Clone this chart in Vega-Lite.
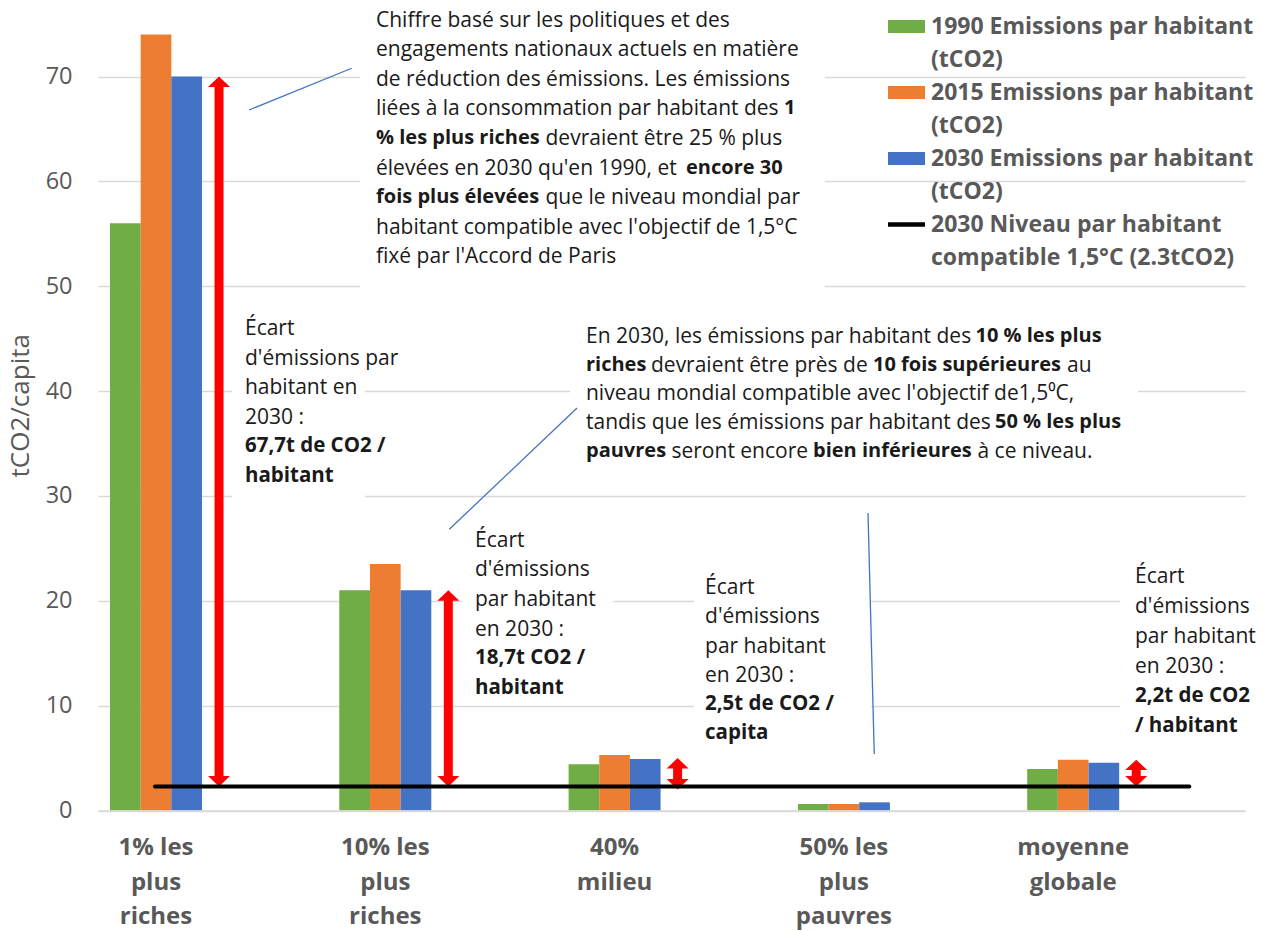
{
  "$schema": "https://vega.github.io/schema/vega-lite/v6.json",
  "autosize": {"type": "none"},
  "padding": {"left": 98, "top": 0, "right": 28, "bottom": 120.5},
  "width": 1147,
  "height": 810.5,
  "config": {"view": {"stroke": null}, "font": "Open Sans", "text": {"align": "left", "baseline": "top", "fontSize": 21, "color": "#1a1a1a"}},
  "datasets": {
    "bars": [
      {"group": "1% les plus riches", "series": "1990 Emissions par habitant (tCO2)", "value": 56},
      {"group": "1% les plus riches", "series": "2015 Emissions par habitant (tCO2)", "value": 74},
      {"group": "1% les plus riches", "series": "2030 Emissions par habitant (tCO2)", "value": 70},
      {"group": "10% les plus riches", "series": "1990 Emissions par habitant (tCO2)", "value": 21},
      {"group": "10% les plus riches", "series": "2015 Emissions par habitant (tCO2)", "value": 23.5},
      {"group": "10% les plus riches", "series": "2030 Emissions par habitant (tCO2)", "value": 21},
      {"group": "40% milieu", "series": "1990 Emissions par habitant (tCO2)", "value": 4.4},
      {"group": "40% milieu", "series": "2015 Emissions par habitant (tCO2)", "value": 5.3},
      {"group": "40% milieu", "series": "2030 Emissions par habitant (tCO2)", "value": 4.9},
      {"group": "50% les plus pauvres", "series": "1990 Emissions par habitant (tCO2)", "value": 0.62},
      {"group": "50% les plus pauvres", "series": "2015 Emissions par habitant (tCO2)", "value": 0.62},
      {"group": "50% les plus pauvres", "series": "2030 Emissions par habitant (tCO2)", "value": 0.78},
      {"group": "moyenne globale", "series": "1990 Emissions par habitant (tCO2)", "value": 3.96},
      {"group": "moyenne globale", "series": "2015 Emissions par habitant (tCO2)", "value": 4.85},
      {"group": "moyenne globale", "series": "2030 Emissions par habitant (tCO2)", "value": 4.56}
    ],
    "arrows": [
      {"group": "1% les plus riches", "low": 2.3, "high": 70},
      {"group": "10% les plus riches", "low": 2.3, "high": 21},
      {"group": "40% milieu", "low": 2.0, "high": 5.0},
      {"group": "moyenne globale", "low": 2.3, "high": 4.85}
    ],
    "one": [{}]
  },
  "layer": [
    {
      "data": {"name": "one"},
      "mark": {"type": "rect", "fill": "white"},
      "encoding": {
        "x": {"datum": "10% les plus riches", "type": "nominal", "bandPosition": 0.225},
        "x2": {"datum": "10% les plus riches", "bandPosition": 5.277},
        "y": {"datum": 77.3, "type": "quantitative"},
        "y2": {"datum": 49.36}
      }
    },
    {
      "data": {"name": "one"},
      "mark": {"type": "rect", "fill": "white"},
      "encoding": {
        "x": {"datum": "1% les plus riches", "type": "nominal", "bandPosition": 1.326},
        "x2": {"datum": "1% les plus riches", "bandPosition": 2.772},
        "y": {"datum": 48.21, "type": "quantitative"},
        "y2": {"datum": 29.61}
      }
    },
    {
      "data": {"name": "one"},
      "mark": {"type": "rect", "fill": "white"},
      "encoding": {
        "x": {"datum": "40% milieu", "type": "nominal", "bandPosition": 0.015},
        "x2": {"datum": "40% milieu", "bandPosition": 6.189},
        "y": {"datum": 47.26, "type": "quantitative"},
        "y2": {"datum": 32.28}
      }
    },
    {
      "data": {"name": "one"},
      "mark": {"type": "rect", "fill": "white"},
      "encoding": {
        "x": {"datum": "10% les plus riches", "type": "nominal", "bandPosition": 1.329},
        "x2": {"datum": "10% les plus riches", "bandPosition": 2.975},
        "y": {"datum": 27.23, "type": "quantitative"},
        "y2": {"datum": 10.35}
      }
    },
    {
      "data": {"name": "one"},
      "mark": {"type": "rect", "fill": "white"},
      "encoding": {
        "x": {"datum": "40% milieu", "type": "nominal", "bandPosition": 1.363},
        "x2": {"datum": "40% milieu", "bandPosition": 3.287},
        "y": {"datum": 23.32, "type": "quantitative"},
        "y2": {"datum": 5.58}
      }
    },
    {
      "data": {"name": "one"},
      "mark": {"type": "rect", "fill": "white"},
      "encoding": {
        "x": {"datum": "moyenne globale", "type": "nominal", "bandPosition": 1.009},
        "x2": {"datum": "moyenne globale", "bandPosition": 2.37},
        "y": {"datum": 24.27, "type": "quantitative"},
        "y2": {"datum": 6.25}
      }
    },
    {
      "data": {"name": "bars"},
      "mark": {"type": "bar"},
      "encoding": {
        "x": {
          "field": "group", "type": "nominal",
          "scale": {
            "domain": ["1% les plus riches", "10% les plus riches", "40% milieu", "50% les plus pauvres", "moyenne globale"],
            "paddingInner": 0.5988, "paddingOuter": 0.3005, "align": 0.0871, "round": false
          },
          "axis": {
            "title": null, "domain": true, "domainColor": "#d9d9d9", "domainWidth": 1.3,
            "ticks": false, "grid": false, "labelAngle": 0, "labelAlign": "center", "labelFont": "Open Sans",
            "labelFontSize": 24, "labelFontWeight": "bold", "labelColor": "#595959",
            "labelPadding": 25, "labelLineHeight": 34.5, "labelBaseline": "top",
            "labelLimit": 300, "labelOverlap": false,
            "labelExpr": "datum.value == '1% les plus riches' ? ['1% les','plus','riches'] : datum.value == '10% les plus riches' ? ['10% les','plus','riches'] : datum.value == '40% milieu' ? ['40%','milieu'] : datum.value == '50% les plus pauvres' ? ['50% les','plus','pauvres'] : ['moyenne','globale']"
          }
        },
        "xOffset": {"field": "series", "type": "nominal", "scale": {"paddingInner": 0, "paddingOuter": 0}},
        "y": {
          "field": "value", "type": "quantitative",
          "scale": {"domain": [0, 77.3], "nice": false, "zero": true},
          "axis": {
            "values": [0, 10, 20, 30, 40, 50, 60, 70], "grid": true, "gridColor": "#d9d9d9", "gridWidth": 1.3,
            "domain": false, "ticks": false, "labelFont": "Open Sans", "labelFontSize": 23.5,
            "labelColor": "#595959", "labelPadding": 26, "title": "tCO2/capita",
            "titleFont": "Open Sans", "titleFontSize": 26, "titleFontWeight": "normal",
            "titleColor": "#595959", "titlePadding": 12
          }
        },
        "color": {
          "field": "series", "type": "nominal",
          "scale": {
            "domain": ["1990 Emissions par habitant (tCO2)", "2015 Emissions par habitant (tCO2)", "2030 Emissions par habitant (tCO2)", "2030 Niveau par habitant compatible 1,5°C (2.3tCO2)"],
            "range": ["#70AD47", "#ED7D31", "#4472C4", "#000000"]
          },
          "legend": {
            "title": null, "orient": "none", "legendX": 790, "legendY": 8, "padding": 0,
            "symbolType": "M-1,-0.35L1,-0.35L1,0.35L-1,0.35Z", "symbolSize": 1369, "symbolStrokeWidth": 0,
            "labelFont": "Open Sans", "labelFontWeight": "bold", "labelFontSize": 23, "labelColor": "#595959",
            "labelLimit": 500, "labelOffset": 6, "labelBaseline": "top", "rowPadding": 2,
            "labelExpr": "indexof(datum.label,'Niveau') >= 0 ? ['2030 Niveau par habitant','compatible 1,5°C (2.3tCO2)'] : [replace(datum.label,' (tCO2)',''), '(tCO2)']",
            "encode": {
              "symbols": {"update": {"shape": {"signal": "indexof(datum.value,'Niveau') >= 0 ? 'M-1,-0.12L1,-0.12L1,0.12L-1,0.12Z' : 'M-1,-0.35L1,-0.35L1,0.35L-1,0.35Z'"}}},
              "labels": {"update": {"dy": {"value": -11}, "lineHeight": {"value": 33}}}
            }
          }
        }
      }
    },
    {
      "data": {"name": "arrows"},
      "mark": {"type": "rule", "color": "#FF0000", "strokeWidth": 9, "yOffset": -9, "y2Offset": 9},
      "encoding": {
        "x": {"field": "group", "type": "nominal", "bandPosition": 1.185},
        "y": {"field": "low", "type": "quantitative"},
        "y2": {"field": "high"}
      }
    },
    {
      "data": {"name": "arrows"},
      "mark": {"type": "point", "shape": "M0,0L1,0.95L-1,0.95Z", "size": 484, "filled": true, "color": "#FF0000", "opacity": 1, "strokeWidth": 0},
      "encoding": {
        "x": {"field": "group", "type": "nominal", "bandPosition": 1.185},
        "y": {"field": "high", "type": "quantitative"}
      }
    },
    {
      "data": {"name": "arrows"},
      "mark": {"type": "point", "shape": "M0,0L1,-0.95L-1,-0.95Z", "size": 484, "filled": true, "color": "#FF0000", "opacity": 1, "strokeWidth": 0},
      "encoding": {
        "x": {"field": "group", "type": "nominal", "bandPosition": 1.185},
        "y": {"field": "low", "type": "quantitative"}
      }
    },
    {
      "data": {"name": "one"},
      "mark": {"type": "rule", "color": "#000000", "strokeWidth": 4, "strokeCap": "round"},
      "encoding": {
        "x": {"datum": "1% les plus riches", "type": "nominal", "bandPosition": 0.489},
        "x2": {"datum": "moyenne globale", "bandPosition": 1.762},
        "y": {"datum": 2.3, "type": "quantitative"}
      }
    },
    {
      "data": {"name": "one"},
      "mark": {"type": "rule", "color": "#4472C4", "strokeWidth": 1.3},
      "encoding": {
        "x": {"datum": "1% les plus riches", "type": "nominal", "bandPosition": 1.511},
        "x2": {"datum": "1% les plus riches", "bandPosition": 2.627},
        "y": {"datum": 66.81, "type": "quantitative"},
        "y2": {"datum": 70.79}
      }
    },
    {
      "data": {"name": "one"},
      "mark": {"type": "rule", "color": "#4472C4", "strokeWidth": 1.3},
      "encoding": {
        "x": {"datum": "10% les plus riches", "type": "nominal", "bandPosition": 1.196},
        "x2": {"datum": "10% les plus riches", "bandPosition": 2.584},
        "y": {"datum": 26.82, "type": "quantitative"},
        "y2": {"datum": 38.39}
      }
    },
    {
      "data": {"name": "one"},
      "mark": {"type": "rule", "color": "#4472C4", "strokeWidth": 1.3},
      "encoding": {
        "x": {"datum": "50% les plus pauvres", "type": "nominal", "bandPosition": 0.762},
        "x2": {"datum": "50% les plus pauvres", "bandPosition": 0.830},
        "y": {"datum": 28.37, "type": "quantitative"},
        "y2": {"datum": 5.39}
      }
    },
    {
      "data": {"name": "one"},
      "mark": {"type": "text", "lineHeight": 29.6},
      "encoding": {
        "x": {"datum": "10% les plus riches", "type": "nominal", "bandPosition": 0.399},
        "y": {"datum": 76.39, "type": "quantitative"},
        "text": {"value": ["Chiffre basé sur les politiques et des", "engagements nationaux actuels en matière", "de réduction des émissions. Les émissions", "liées à la consommation par habitant des"]}
      }
    },
    {
      "data": {"name": "one"},
      "mark": {"type": "text", "fontWeight": "bold", "fontSize": 20, "dx": 408},
      "encoding": {
        "x": {"datum": "10% les plus riches", "type": "nominal", "bandPosition": 0.399},
        "y": {"datum": 67.921, "type": "quantitative"},
        "text": {"value": "1"}
      }
    },
    {
      "data": {"name": "one"},
      "mark": {"type": "text", "fontWeight": "bold", "fontSize": 20},
      "encoding": {
        "x": {"datum": "10% les plus riches", "type": "nominal", "bandPosition": 0.399},
        "y": {"datum": 65.098, "type": "quantitative"},
        "text": {"value": "% les plus riches"}
      }
    },
    {
      "data": {"name": "one"},
      "mark": {"type": "text", "dx": 169.5},
      "encoding": {
        "x": {"datum": "10% les plus riches", "type": "nominal", "bandPosition": 0.399},
        "y": {"datum": 65.098, "type": "quantitative"},
        "text": {"value": "devraient être 25 % plus"}
      }
    },
    {
      "data": {"name": "one"},
      "mark": {"type": "text"},
      "encoding": {
        "x": {"datum": "10% les plus riches", "type": "nominal", "bandPosition": 0.399},
        "y": {"datum": 62.274, "type": "quantitative"},
        "text": {"value": "élevées en 2030 qu'en 1990, et"}
      }
    },
    {
      "data": {"name": "one"},
      "mark": {"type": "text", "fontWeight": "bold", "fontSize": 20, "dx": 310},
      "encoding": {
        "x": {"datum": "10% les plus riches", "type": "nominal", "bandPosition": 0.399},
        "y": {"datum": 62.274, "type": "quantitative"},
        "text": {"value": "encore 30"}
      }
    },
    {
      "data": {"name": "one"},
      "mark": {"type": "text", "fontWeight": "bold", "fontSize": 20},
      "encoding": {
        "x": {"datum": "10% les plus riches", "type": "nominal", "bandPosition": 0.399},
        "y": {"datum": 59.451, "type": "quantitative"},
        "text": {"value": "fois plus élevées"}
      }
    },
    {
      "data": {"name": "one"},
      "mark": {"type": "text", "dx": 169.5},
      "encoding": {
        "x": {"datum": "10% les plus riches", "type": "nominal", "bandPosition": 0.399},
        "y": {"datum": 59.451, "type": "quantitative"},
        "text": {"value": "que le niveau mondial par"}
      }
    },
    {
      "data": {"name": "one"},
      "mark": {"type": "text", "lineHeight": 29.6},
      "encoding": {
        "x": {"datum": "10% les plus riches", "type": "nominal", "bandPosition": 0.399},
        "y": {"datum": 56.628, "type": "quantitative"},
        "text": {"value": ["habitant compatible avec l'objectif de 1,5°C", "fixé par l'Accord de Paris"]}
      }
    },
    {
      "data": {"name": "one"},
      "mark": {"type": "text"},
      "encoding": {
        "x": {"datum": "40% milieu", "type": "nominal", "bandPosition": 0.189},
        "y": {"datum": 46.21, "type": "quantitative"},
        "text": {"value": "En 2030, les émissions par habitant des"}
      }
    },
    {
      "data": {"name": "one"},
      "mark": {"type": "text", "fontWeight": "bold", "fontSize": 20, "dx": 389.5},
      "encoding": {
        "x": {"datum": "40% milieu", "type": "nominal", "bandPosition": 0.189},
        "y": {"datum": 46.21, "type": "quantitative"},
        "text": {"value": "10 % les plus"}
      }
    },
    {
      "data": {"name": "one"},
      "mark": {"type": "text", "fontWeight": "bold", "fontSize": 20},
      "encoding": {
        "x": {"datum": "40% milieu", "type": "nominal", "bandPosition": 0.189},
        "y": {"datum": 43.468, "type": "quantitative"},
        "text": {"value": "riches"}
      }
    },
    {
      "data": {"name": "one"},
      "mark": {"type": "text", "dx": 65},
      "encoding": {
        "x": {"datum": "40% milieu", "type": "nominal", "bandPosition": 0.189},
        "y": {"datum": 43.468, "type": "quantitative"},
        "text": {"value": "devraient être près de"}
      }
    },
    {
      "data": {"name": "one"},
      "mark": {"type": "text", "fontWeight": "bold", "fontSize": 20, "dx": 287},
      "encoding": {
        "x": {"datum": "40% milieu", "type": "nominal", "bandPosition": 0.189},
        "y": {"datum": 43.468, "type": "quantitative"},
        "text": {"value": "10 fois supérieures"}
      }
    },
    {
      "data": {"name": "one"},
      "mark": {"type": "text", "dx": 481},
      "encoding": {
        "x": {"datum": "40% milieu", "type": "nominal", "bandPosition": 0.189},
        "y": {"datum": 43.468, "type": "quantitative"},
        "text": {"value": "au"}
      }
    },
    {
      "data": {"name": "one"},
      "mark": {"type": "text", "lineHeight": 28.75},
      "encoding": {
        "x": {"datum": "40% milieu", "type": "nominal", "bandPosition": 0.189},
        "y": {"datum": 40.726, "type": "quantitative"},
        "text": {"value": ["niveau mondial compatible avec l'objectif de1,5⁰C,", "tandis que les émissions par habitant des"]}
      }
    },
    {
      "data": {"name": "one"},
      "mark": {"type": "text", "fontWeight": "bold", "fontSize": 20, "dx": 409},
      "encoding": {
        "x": {"datum": "40% milieu", "type": "nominal", "bandPosition": 0.189},
        "y": {"datum": 37.984, "type": "quantitative"},
        "text": {"value": "50 % les plus"}
      }
    },
    {
      "data": {"name": "one"},
      "mark": {"type": "text", "fontWeight": "bold", "fontSize": 20},
      "encoding": {
        "x": {"datum": "40% milieu", "type": "nominal", "bandPosition": 0.189},
        "y": {"datum": 35.242, "type": "quantitative"},
        "text": {"value": "pauvres"}
      }
    },
    {
      "data": {"name": "one"},
      "mark": {"type": "text", "dx": 85.5},
      "encoding": {
        "x": {"datum": "40% milieu", "type": "nominal", "bandPosition": 0.189},
        "y": {"datum": 35.242, "type": "quantitative"},
        "text": {"value": "seront encore"}
      }
    },
    {
      "data": {"name": "one"},
      "mark": {"type": "text", "fontWeight": "bold", "fontSize": 20, "dx": 227},
      "encoding": {
        "x": {"datum": "40% milieu", "type": "nominal", "bandPosition": 0.189},
        "y": {"datum": 35.242, "type": "quantitative"},
        "text": {"value": "bien inférieures"}
      }
    },
    {
      "data": {"name": "one"},
      "mark": {"type": "text", "dx": 391.5},
      "encoding": {
        "x": {"datum": "40% milieu", "type": "nominal", "bandPosition": 0.189},
        "y": {"datum": 35.242, "type": "quantitative"},
        "text": {"value": "à ce niveau."}
      }
    },
    {
      "data": {"name": "one"},
      "mark": {"type": "text", "lineHeight": 29.5},
      "encoding": {
        "x": {"datum": "1% les plus riches", "type": "nominal", "bandPosition": 1.467},
        "y": {"datum": 46.97, "type": "quantitative"},
        "text": {"value": ["Écart", "d'émissions par", "habitant en", "2030 :"]}
      }
    },
    {
      "data": {"name": "one"},
      "mark": {"type": "text", "fontWeight": "bold", "fontSize": 20.5, "lineHeight": 29.5},
      "encoding": {
        "x": {"datum": "1% les plus riches", "type": "nominal", "bandPosition": 1.467},
        "y": {"datum": 35.716, "type": "quantitative"},
        "text": {"value": ["67,7t de CO2 /", "habitant"]}
      }
    },
    {
      "data": {"name": "one"},
      "mark": {"type": "text", "lineHeight": 29.6},
      "encoding": {
        "x": {"datum": "10% les plus riches", "type": "nominal", "bandPosition": 1.475},
        "y": {"datum": 26.78, "type": "quantitative"},
        "text": {"value": ["Écart", "d'émissions", "par habitant", "en 2030 :"]}
      }
    },
    {
      "data": {"name": "one"},
      "mark": {"type": "text", "fontWeight": "bold", "fontSize": 20.5, "lineHeight": 29.6},
      "encoding": {
        "x": {"datum": "10% les plus riches", "type": "nominal", "bandPosition": 1.475},
        "y": {"datum": 15.488, "type": "quantitative"},
        "text": {"value": ["18,7t CO2 /", "habitant"]}
      }
    },
    {
      "data": {"name": "one"},
      "mark": {"type": "text", "lineHeight": 29.2},
      "encoding": {
        "x": {"datum": "40% milieu", "type": "nominal", "bandPosition": 1.483},
        "y": {"datum": 22.24, "type": "quantitative"},
        "text": {"value": ["Écart", "d'émissions", "par habitant", "en 2030 :"]}
      }
    },
    {
      "data": {"name": "one"},
      "mark": {"type": "text", "fontWeight": "bold", "fontSize": 20.5, "lineHeight": 29.2},
      "encoding": {
        "x": {"datum": "40% milieu", "type": "nominal", "bandPosition": 1.483},
        "y": {"datum": 11.10, "type": "quantitative"},
        "text": {"value": ["2,5t de CO2 /", "capita"]}
      }
    },
    {
      "data": {"name": "one"},
      "mark": {"type": "text", "lineHeight": 30},
      "encoding": {
        "x": {"datum": "moyenne globale", "type": "nominal", "bandPosition": 1.172},
        "y": {"datum": 23.29, "type": "quantitative"},
        "text": {"value": ["Écart", "d'émissions", "par habitant", "en 2030 :"]}
      }
    },
    {
      "data": {"name": "one"},
      "mark": {"type": "text", "fontWeight": "bold", "fontSize": 20.5, "lineHeight": 30},
      "encoding": {
        "x": {"datum": "moyenne globale", "type": "nominal", "bandPosition": 1.172},
        "y": {"datum": 11.845, "type": "quantitative"},
        "text": {"value": ["2,2t de CO2", "/ habitant"]}
      }
    }
  ]
}
